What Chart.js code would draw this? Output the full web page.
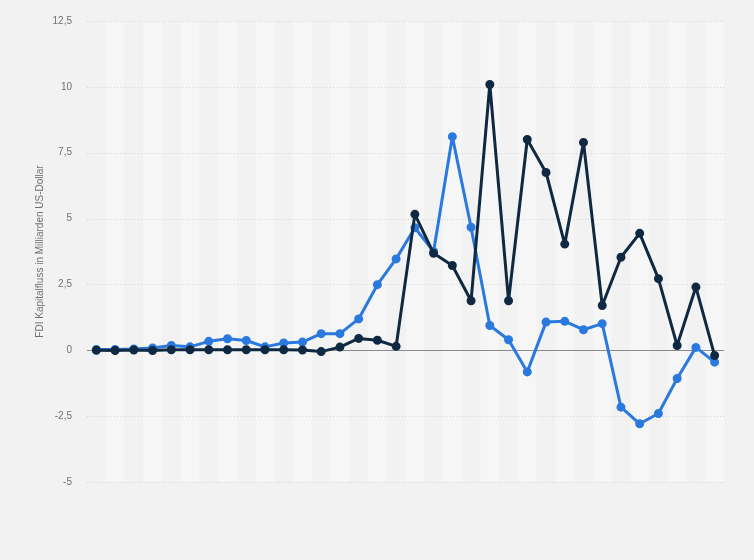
<!DOCTYPE html>
<html>
<head>
<meta charset="utf-8">
<script src="https://cdn.jsdelivr.net/npm/chart.js@4.4.1/dist/chart.umd.min.js"></script>
<style>
  html, body { margin: 0; padding: 0; background: #f2f2f2; }
  #wrap { width: 754px; height: 560px; }
</style>
</head>
<body>
<div id="wrap"><canvas id="chart"></canvas></div>
<script>
// 34 periods, no labels shown on the x axis in the original
const categories = ['1', '2', '3', '4', '5', '6', '7', '8', '9', '10', '11', '12', '13', '14', '15', '16', '17',
    '18', '19', '20', '21', '22', '23', '24', '25', '26', '27', '28', '29', '30', '31', '32', '33', '34'];

const seriesBlue = [0.03, 0.03, 0.05, 0.09, 0.18, 0.13, 0.34, 0.44, 0.37, 0.13, 0.28, 0.31, 0.63, 0.63, 1.19, 2.49,
    3.47, 4.65, 3.75, 8.11, 4.67, 0.94, 0.40, -0.82, 1.07, 1.10, 0.78, 1.01, -2.16, -2.79, -2.40, -1.07, 0.11, -0.45];

const seriesDark = [0, -0.01, 0.01, -0.01, 0.02, 0.02, 0.02, 0.02, 0.02, 0.02, 0.02, 0.01, -0.05, 0.12, 0.45, 0.38,
    0.15, 5.16, 3.68, 3.22, 1.88, 10.09, 1.88, 8.0, 6.75, 4.03, 7.89, 1.70, 3.53, 4.44, 2.72, 0.18, 2.40, -0.20];

const yTicks = [-5, -2.5, 0, 2.5, 5, 7.5, 10, 12.5];
const yTitle = 'FDI Kapitalfluss in Milliarden US-Dollar';

const fmt = (v) => String(v).replace('.', ',');

// alternating column bands + zero line
const backdrop = {
    id: 'backdrop',
    beforeDatasetsDraw(chart) {
        const { ctx, chartArea: a, scales: { x, y } } = chart;
        const w = x.getPixelForValue(1) - x.getPixelForValue(0);
        ctx.save();
        ctx.fillStyle = 'rgba(255,255,255,0.3)';
        categories.forEach((c, i) => {
            if (i % 2 === 1) {
                const cx = x.getPixelForValue(i);
                ctx.fillRect(cx - w / 2, a.top, w, a.bottom - a.top);
            }
        });
        // dotted grid over bands
        ctx.strokeStyle = '#d6d6d6';
        ctx.lineWidth = 1;
        ctx.setLineDash([1, 2]);
        yTicks.forEach(t => {
            if (t === 0) return;
            const py = Math.round(y.getPixelForValue(t)) + 0.5;
            ctx.beginPath();
            ctx.moveTo(a.left, py);
            ctx.lineTo(a.right, py);
            ctx.stroke();
        });
        ctx.setLineDash([]);
        const zy = Math.round(y.getPixelForValue(0)) + 0.5;
        ctx.strokeStyle = '#8a8a8a';
        ctx.beginPath();
        ctx.moveTo(a.left, zy);
        ctx.lineTo(a.right, zy);
        ctx.stroke();
        ctx.restore();
    }
};

new Chart(document.getElementById('chart'), {
    type: 'line',
    data: {
        labels: categories,
        datasets: [{
            label: 'Dark',
            data: seriesDark,
            borderColor: '#0f2942',
            backgroundColor: '#0f2942',
            borderWidth: 3,
            borderJoinStyle: 'round',
            pointRadius: 3,
            pointHoverRadius: 3,
            tension: 0
        }, {
            label: 'Blue',
            data: seriesBlue,
            borderColor: '#2a79de',
            backgroundColor: '#2a79de',
            borderWidth: 3,
            borderJoinStyle: 'round',
            pointRadius: 3,
            pointHoverRadius: 3,
            tension: 0
        }]
    },
    options: {
        responsive: true,
        maintainAspectRatio: false,
        animation: false,
        layout: { padding: { top: 20, right: 30, bottom: 78, left: 0 } },
        plugins: {
            legend: { display: false },
            tooltip: { enabled: false }
        },
        scales: {
            x: {
                display: false,
                offset: true
            },
            y: {
                min: -5,
                max: 12.5,
                afterBuildTicks: (scale) => { scale.ticks = yTicks.map(v => ({ value: v })); },
                afterFit: (scale) => { scale.width = 87; },
                border: { display: false },
                grid: { display: false, drawTicks: false },
                ticks: {
                    padding: 15,
                    color: '#707070',
                    font: { family: 'Liberation Sans, Arial, sans-serif', size: 10 },
                    callback: (v) => fmt(v)
                },
                title: {
                    display: true,
                    text: yTitle,
                    color: '#707070',
                    font: { family: 'Liberation Sans, Arial, sans-serif', size: 10 },
                    padding: { top: 34, bottom: 0 }
                }
            }
        }
    },
    plugins: [backdrop]
});
</script>
</body>
</html>
